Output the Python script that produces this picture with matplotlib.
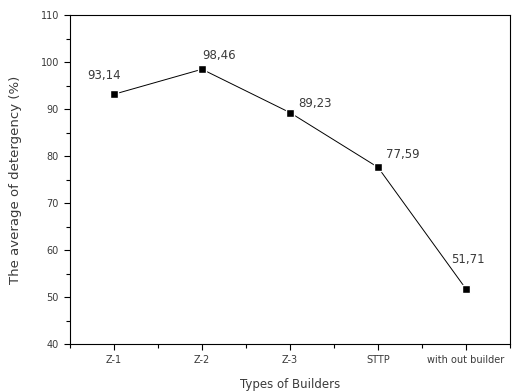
import matplotlib
matplotlib.use("Agg")
import matplotlib.pyplot as plt
from matplotlib.ticker import MultipleLocator, FixedLocator

plt.rcParams['font.family'] = ['DejaVu Sans']

categories = ["Z-1", "Z-2", "Z-3", "STTP", "with out builder"]
values = [93.14, 98.46, 89.23, 77.59, 51.71]
value_labels = ["93,14", "98,46", "89,23", "77,59", "51,71"]
label_offsets = [(-10, 19), (0, 14), (8, 9), (8, 13), (-15, 29)]
label_ha = ["center", "left", "left", "left", "left"]

fig = plt.figure(figsize=(5.19, 3.91), dpi=100)
ax = fig.add_axes([70/519, 47/391, 440/519, 329/391])

x = list(range(1, len(categories) + 1))
ax.plot(x, values, color='black', lw=0.7, marker='s', markersize=6,
        markerfacecolor='black', markeredgecolor='white', markeredgewidth=1.0)
for xi, v, lab, off, ha in zip(x, values, value_labels, label_offsets, label_ha):
    ax.annotate(lab, (xi, v), xytext=off, textcoords='offset pixels',
                ha=ha, va='center', fontsize=8.5, color='#3a3a3a')

ax.set_xlim(0.5, 5.5)
ax.set_ylim(40, 110)
ax.set_xticks(x)
ax.set_xticklabels(categories)
ax.xaxis.set_minor_locator(FixedLocator([0.5, 1.5, 2.5, 3.5, 4.5, 5.5]))
ax.yaxis.set_major_locator(MultipleLocator(10))
ax.yaxis.set_minor_locator(MultipleLocator(5))
ax.tick_params(axis='both', which='major', direction='out', length=4.5, width=0.8,
               labelsize=7, colors='black', labelcolor='#3a3a3a', pad=3.5)
ax.tick_params(axis='both', which='minor', direction='out', length=3, width=0.8)
ax.tick_params(top=False, right=False, which='both')
for s in ax.spines.values():
    s.set_linewidth(0.8)

ax.set_xlabel("Types of Builders", fontsize=8.5, color='#3a3a3a', labelpad=9)
ax.set_ylabel("The average of detergency (%)", fontsize=9.5, color='#3a3a3a', labelpad=13)

fig.savefig("out.png", dpi=100)
